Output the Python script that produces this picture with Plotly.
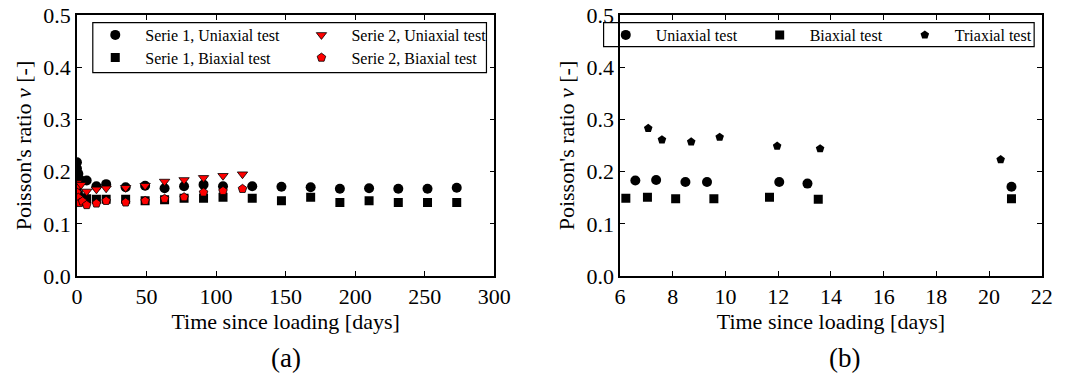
import plotly.graph_objects as go

# ---------------- data: panel (a) ----------------
s1_uni_t = [0, 0, 1, 3, 7, 14, 21, 35, 49, 63, 77, 91, 105, 126, 147, 168, 189, 210, 231, 252, 273]
s1_uni_v = [0.218, 0.206, 0.196, 0.183, 0.183, 0.172, 0.176, 0.170, 0.173, 0.168, 0.172, 0.175, 0.172, 0.172, 0.171, 0.170, 0.167, 0.168, 0.167, 0.167, 0.169]

s1_bi_t = [0, 1, 3, 7, 14, 21, 35, 49, 63, 77, 91, 105, 126, 147, 168, 189, 210, 231, 252, 273]
s1_bi_v = [0.165, 0.155, 0.150, 0.148, 0.147, 0.147, 0.147, 0.144, 0.146, 0.149, 0.149, 0.151, 0.149, 0.144, 0.151, 0.141, 0.144, 0.141, 0.141, 0.141]

s2_uni_t = [0, 1, 3, 7, 14, 21, 35, 49, 63, 77, 91, 105, 119]
s2_uni_v = [0.178, 0.172, 0.175, 0.162, 0.166, 0.168, 0.169, 0.173, 0.181, 0.184, 0.188, 0.192, 0.195]

s2_bi_t = [0, 1, 2, 4, 7, 14, 21, 35, 49, 63, 77, 91, 105, 119]
s2_bi_v = [0.160, 0.150, 0.140, 0.143, 0.136, 0.139, 0.144, 0.141, 0.144, 0.148, 0.151, 0.160, 0.163, 0.167]

# ---------------- data: panel (b) ----------------
uni_t = [6.58, 7.37, 8.48, 9.30, 12.04, 13.11, 20.85]
uni_v = [0.183, 0.184, 0.180, 0.180, 0.180, 0.177, 0.171]
bi_t = [6.22, 7.04, 8.11, 9.56, 11.67, 13.52, 20.85]
bi_v = [0.149, 0.151, 0.148, 0.148, 0.151, 0.147, 0.148]
tri_t = [7.07, 7.59, 8.70, 9.78, 11.96, 13.59, 20.44]
tri_v = [0.283, 0.261, 0.257, 0.266, 0.249, 0.244, 0.223]

# ---------------- layout geometry (pixels) ----------------
W, H = 1072, 378
TOP, BOT = 15.0, 276.0
PH = BOT - TOP
FONT = "Liberation Serif"


def px(x):
    return x / W


def py(y):
    return (BOT - y) / PH


fig = go.Figure()

blk = dict(color="black", line=dict(color="black", width=0))
red = dict(color="red", line=dict(color="black", width=0.8))

fig.add_trace(go.Scatter(x=s1_uni_t, y=s1_uni_v, mode="markers", name="Serie 1, Uniaxial test",
                         marker=dict(symbol="circle", size=10, **blk), legend="legend",
                         xaxis="x", yaxis="y"))
fig.add_trace(go.Scatter(x=s1_bi_t, y=s1_bi_v, mode="markers", name="Serie 1, Biaxial test",
                         marker=dict(symbol="square", size=9, **blk), legend="legend2",
                         xaxis="x", yaxis="y"))
fig.add_trace(go.Scatter(x=s2_uni_t, y=s2_uni_v, mode="markers", name="Serie 2, Uniaxial test",
                         marker=dict(symbol="triangle-down", size=9, **red), legend="legend3",
                         xaxis="x", yaxis="y"))
fig.add_trace(go.Scatter(x=s2_bi_t, y=s2_bi_v, mode="markers", name="Serie 2, Biaxial test",
                         marker=dict(symbol="pentagon", size=9, **red), legend="legend4",
                         xaxis="x", yaxis="y"))

fig.add_trace(go.Scatter(x=uni_t, y=uni_v, mode="markers", name="Uniaxial test",
                         marker=dict(symbol="circle", size=10, **blk), legend="legend5",
                         xaxis="x2", yaxis="y2"))
fig.add_trace(go.Scatter(x=bi_t, y=bi_v, mode="markers", name="Biaxial test",
                         marker=dict(symbol="square", size=9, **blk), legend="legend6",
                         xaxis="x2", yaxis="y2"))
fig.add_trace(go.Scatter(x=tri_t, y=tri_v, mode="markers", name="Triaxial test",
                         marker=dict(symbol="pentagon", size=9, **blk), legend="legend7",
                         xaxis="x2", yaxis="y2"))

axis_common = dict(showline=True, linecolor="black", linewidth=1.5, mirror="ticks",
                   ticks="inside", ticklen=5, tickwidth=1, tickcolor="black",
                   showgrid=False, zeroline=False,
                   tickfont=dict(family=FONT, size=22, color="black"))

xa_title = dict(text="Time since loading [days]", font=dict(family=FONT, size=22, color="black"), standoff=4)
ya_title = dict(text="Poisson's ratio <i>ν</i> [-]", font=dict(family=FONT, size=22, color="black"), standoff=6)

layout = dict(
    width=W, height=H,
    margin=dict(l=0, r=0, t=TOP, b=H - BOT, pad=0),
    paper_bgcolor="white", plot_bgcolor="white",
    font=dict(family=FONT, color="black"),
    showlegend=True,
    xaxis=dict(domain=[px(72.5), px(499)], range=[0, 300], dtick=50, tick0=0, anchor="y",
               title=xa_title, **axis_common),
    yaxis=dict(domain=[0, 1], range=[0, 0.5], dtick=0.1, tick0=0, tickformat=".1f", anchor="x",
               title=ya_title, **axis_common),
    xaxis2=dict(domain=[px(627.5), px(1058.5)], range=[6, 22], dtick=2, tick0=6, anchor="y2",
                title=xa_title, **axis_common),
    yaxis2=dict(domain=[0, 1], range=[0, 0.5], dtick=0.1, tick0=0, tickformat=".1f", anchor="x2",
                title=ya_title, **axis_common),
)

# one legend per entry, positioned where the reference shows it
leg_pos = {
    "legend": (111.0, 35.0),
    "legend2": (111.0, 57.7),
    "legend3": (321.7, 35.0),
    "legend4": (321.7, 57.7),
    "legend5": (632.7, 35.0),
    "legend6": (790.0, 35.0),
    "legend7": (938.3, 35.0),
}
for key, (mx, my) in leg_pos.items():
    layout[key] = dict(x=px(mx - 30), y=py(my), xanchor="left", yanchor="middle",
                       itemwidth=50, bgcolor="rgba(0,0,0,0)", borderwidth=0,
                       font=dict(family=FONT, size=16, color="black"))

layout["shapes"] = [
    dict(type="rect", xref="paper", yref="paper", x0=px(88.7), x1=px(491.0), y0=py(72.7), y1=py(22.7),
         line=dict(color="black", width=1.2), fillcolor="rgba(0,0,0,0)"),
    dict(type="rect", xref="paper", yref="paper", x0=px(610.7), x1=px(1050.7), y0=py(46.7), y1=py(22.7),
         line=dict(color="black", width=1.2), fillcolor="rgba(0,0,0,0)"),
]

layout["annotations"] = [
    dict(text="(a)", x=px(286), y=py(358), xref="paper", yref="paper", showarrow=False,
         xanchor="center", yanchor="middle", font=dict(family=FONT, size=27, color="black")),
    dict(text="(b)", x=px(857), y=py(358), xref="paper", yref="paper", showarrow=False,
         xanchor="center", yanchor="middle", font=dict(family=FONT, size=27, color="black")),
]

fig.update_layout(**layout)
fig.write_html("out.html")
